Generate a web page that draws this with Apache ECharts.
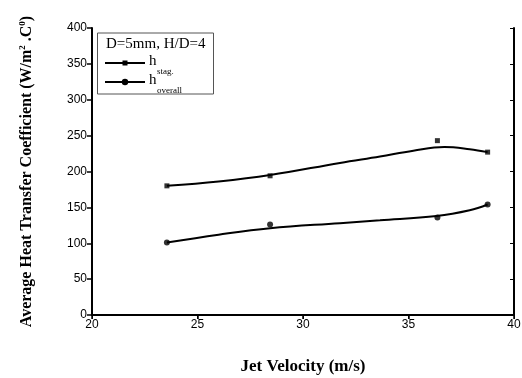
<!DOCTYPE html>
<html><head><meta charset="utf-8">
<script src="https://cdn.jsdelivr.net/npm/echarts@6/dist/echarts.min.js"></script>
<style>html,body{margin:0;padding:0;background:#fff}#c{width:522px;height:378px}</style>
</head><body><div id="c"></div>
<script>
// Measured points
const velStag = [23.55, 28.44, 36.37, 38.75];
const hStag = [180, 194, 243, 227];
const velOverall = [23.55, 28.44, 36.37, 38.75];
const hOverall = [101, 126, 136, 154];
// Fitted curves
const fitStagX = [23.55, 26, 28.44, 31.75, 33.65, 35.23, 36.7, 37.9, 38.75];
const fitStagY = [180, 186, 195, 212, 221, 229, 234, 231, 227];
const fitOverX = [23.55, 26, 28.44, 31.75, 33.65, 36.33, 37.9, 38.75];
const fitOverY = [101, 112, 121, 128, 132, 138, 146, 154];
const xTicks = [20, 25, 30, 35, 40];
const yTicks = [0, 50, 100, 150, 200, 250, 300, 350, 400];

const zip = (a, b) => a.map((v, i) => [v, b[i]]);
const chart = echarts.init(document.getElementById('c'));
const axisLine = {show: true, lineStyle: {color: '#000', width: 2}};
const lbl = {color: '#000', fontFamily: 'Liberation Sans, Arial', fontSize: 12};
const T = 'Liberation Serif, Times New Roman';
chart.setOption({
  animation: false,
  grid: {left: 92, right: 8, top: 28, bottom: 63, containLabel: false, outerBoundsMode: 'none'},
  xAxis: [
    {type: 'value', min: xTicks[0], max: xTicks[xTicks.length-1], interval: 5, position: 'bottom',
     axisLine, axisTick: {show: true, length: 4, lineStyle: {color: '#000', width: 1.5}},
     axisLabel: {...lbl, margin: 4}, splitLine: {show: false},
     name: 'Jet Velocity (m/s)', nameLocation: 'middle', nameGap: 43,
     nameTextStyle: {fontFamily: T, fontWeight: 'bold', fontSize: 17, color: '#000'}},
    {type: 'value', min: 20, max: 40, interval: 5, position: 'top',
     axisLine, axisTick: {show: true, inside: true, length: 4, lineStyle: {color: '#000', width: 1}},
     axisLabel: {show: false}, splitLine: {show: false}}
  ],
  yAxis: [
    {type: 'value', min: yTicks[0], max: yTicks[yTicks.length-1], interval: 50, position: 'left',
     axisLine, axisTick: {show: true, length: 5, lineStyle: {color: '#000', width: 1.5}},
     axisLabel: {...lbl, margin: 5}, splitLine: {show: false},
     name: 'Average Heat Transfer Coefficient (W/m{sup|2} .C{sup|0})', nameLocation: 'middle', nameGap: 57,
     nameTextStyle: {fontFamily: T, fontWeight: 'bold', fontSize: 16, color: '#000',
       rich: {sup: {fontFamily: T, fontWeight: 'bold', fontSize: 9, color: '#000', verticalAlign: 'top', padding: [0,0,8,0]}}}},
    {type: 'value', min: 0, max: 400, interval: 50, position: 'right',
     axisLine, axisTick: {show: true, inside: true, length: 4, lineStyle: {color: '#000', width: 1}},
     axisLabel: {show: false}, splitLine: {show: false}}
  ],
  series: [
    {type: 'line', data: zip(fitStagX, fitStagY), smooth: 0.4, showSymbol: false, symbol: 'none',
     lineStyle: {color: '#000', width: 2}},
    {type: 'line', data: zip(fitOverX, fitOverY), smooth: 0.4, showSymbol: false, symbol: 'none',
     lineStyle: {color: '#000', width: 2}},
    {type: 'scatter', data: zip(velStag, hStag), symbol: 'rect', symbolSize: 5, itemStyle: {color: '#000'}},
    {type: 'scatter', data: zip(velOverall, hOverall), symbol: 'circle', symbolSize: 6, itemStyle: {color: '#000'}}
  ],
  graphic: [
    {type: 'rect', shape: {x: 97.5, y: 33, width: 116, height: 61}, style: {fill: '#fff', stroke: '#555', lineWidth: 1}},
    {type: 'text', x: 106, y: 37, style: {text: 'D=5mm, H/D=4', font: '15px "Liberation Serif"', fill: '#000'}},
    {type: 'line', shape: {x1: 105, y1: 63, x2: 145, y2: 63}, style: {stroke: '#000', lineWidth: 2}},
    {type: 'rect', shape: {x: 122.5, y: 60.5, width: 5, height: 5}, style: {fill: '#000'}},
    {type: 'text', x: 149, y: 54, style: {text: 'h', font: '15px "Liberation Serif"', fill: '#000'}},
    {type: 'text', x: 157, y: 67, style: {text: 'stag.', font: '9px "Liberation Serif"', fill: '#000'}},
    {type: 'line', shape: {x1: 105, y1: 82, x2: 145, y2: 82}, style: {stroke: '#000', lineWidth: 2}},
    {type: 'circle', shape: {cx: 125, cy: 82, r: 3.2}, style: {fill: '#000'}},
    {type: 'text', x: 149, y: 73, style: {text: 'h', font: '15px "Liberation Serif"', fill: '#000'}},
    {type: 'text', x: 157, y: 86, style: {text: 'overall', font: '9px "Liberation Serif"', fill: '#000'}}
  ]
});
</script></body></html>
